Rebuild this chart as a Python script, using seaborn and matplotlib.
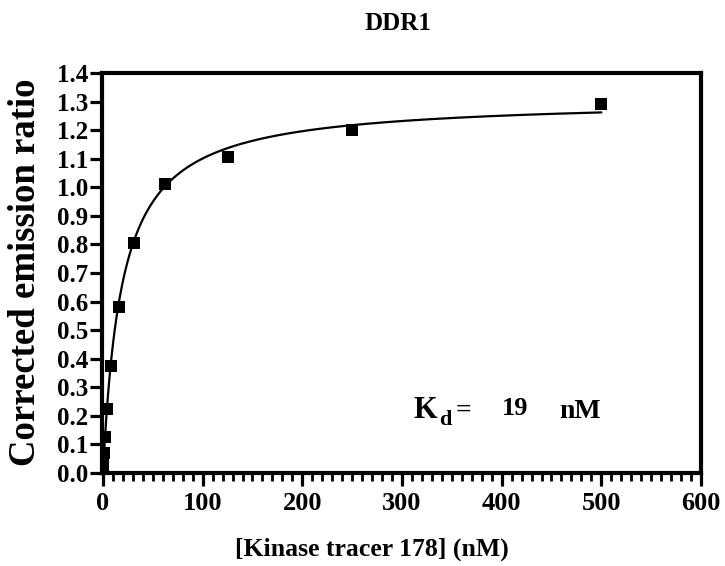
import numpy as np
import pandas as pd
import matplotlib
matplotlib.use("Agg")
import matplotlib.pyplot as plt
import seaborn as sns
from matplotlib.ticker import MultipleLocator

# Data (tracer concentration nM, corrected emission ratio)
tracer_nM = [500, 250, 125, 62.5, 31.25, 15.6, 7.8, 3.9, 1.95, 0.98, 0.49, 0.24, 0.12]
emission = [1.29, 1.20, 1.105, 1.01, 0.805, 0.58, 0.375, 0.225, 0.125, 0.07, 0.04, 0.025, 0.015]

# One-site binding fit parameters
Bmax = 1.31
Kd = 19

title = "DDR1"
xlabel = "[Kinase tracer 178] (nM)"
ylabel = "Corrected emission ratio"
xticks = [0, 100, 200, 300, 400, 500, 600]
yticks = [round(0.1 * i, 1) for i in range(15)]

sns.set_theme(style="white")
plt.rcParams["font.family"] = ["Liberation Serif", "DejaVu Serif"]
plt.rcParams["font.weight"] = "bold"
plt.rcParams["text.color"] = "black"
plt.rcParams["axes.labelcolor"] = "black"
plt.rcParams["xtick.color"] = "black"
plt.rcParams["ytick.color"] = "black"

df = pd.DataFrame({"x": tracer_nM, "y": emission})
xs = np.linspace(0, 500, 600)
fit = pd.DataFrame({"x": xs, "y": Bmax * xs / (Kd + xs)})

W, H = 725, 566
fig = plt.figure(figsize=(7.25, 5.66), dpi=100)
ax = fig.add_axes([102 / W, 1 - 473 / H, 599 / W, 400 / H])

sns.lineplot(data=fit, x="x", y="y", ax=ax, color="black", linewidth=1.6)
sns.scatterplot(data=df, x="x", y="y", ax=ax, marker="s", s=85, color="black",
                edgecolor="black", linewidth=0, zorder=5)

ax.set_xlim(-1, 600)
ax.set_ylim(0, 1.4)
ax.set_xticks(xticks)
ax.set_yticks(yticks)
ax.set_yticklabels([f"{v:.1f}" for v in yticks])
ax.xaxis.set_minor_locator(MultipleLocator(10))
ax.tick_params(axis="both", which="major", direction="out", length=9, width=2.3,
               colors="black")
ax.tick_params(axis="x", which="minor", direction="out", length=5.5, width=2,
               bottom=True, colors="black")
ax.tick_params(axis="x", which="major", bottom=True, pad=5, labelsize=19)
ax.tick_params(axis="y", which="major", left=True, pad=1, labelsize=18)
for lab in ax.get_xticklabels() + ax.get_yticklabels():
    lab.set_fontweight("bold")

for sp in ax.spines.values():
    sp.set_linewidth(3)
    sp.set_color("black")
    sp.set_visible(True)

ax.set_xlabel("")
ax.set_ylabel("")
fig.text(372 / W, 1 - 549 / H, xlabel, ha="center", va="center",
         fontsize=18.5, fontweight="bold")
fig.text(26 / W, 1 - 272 / H, ylabel, ha="center", va="center", rotation=90,
         fontsize=26.5, fontweight="bold")
fig.text(398 / W, 1 - 24 / H, title, ha="center", va="center",
         fontsize=18, fontweight="bold")

# Kd annotation (figure pixel positions)
fig.text(414 / W, 1 - 418 / H, "K", fontsize=22, fontweight="bold", ha="left", va="baseline")
fig.text(439 / W, 1 - 425 / H, "d", fontsize=16, fontweight="bold", ha="left", va="baseline")
fig.text(456 / W, 1 - 418 / H, "=", fontsize=20, fontweight="bold", ha="left", va="baseline")
fig.text(502 / W, 1 - 415 / H, "19", fontsize=19, fontweight="bold", ha="left", va="baseline")
fig.text(559 / W, 1 - 418 / H, "nM", fontsize=20, fontweight="bold", ha="left", va="baseline")

fig.savefig("out.png", dpi=100)
